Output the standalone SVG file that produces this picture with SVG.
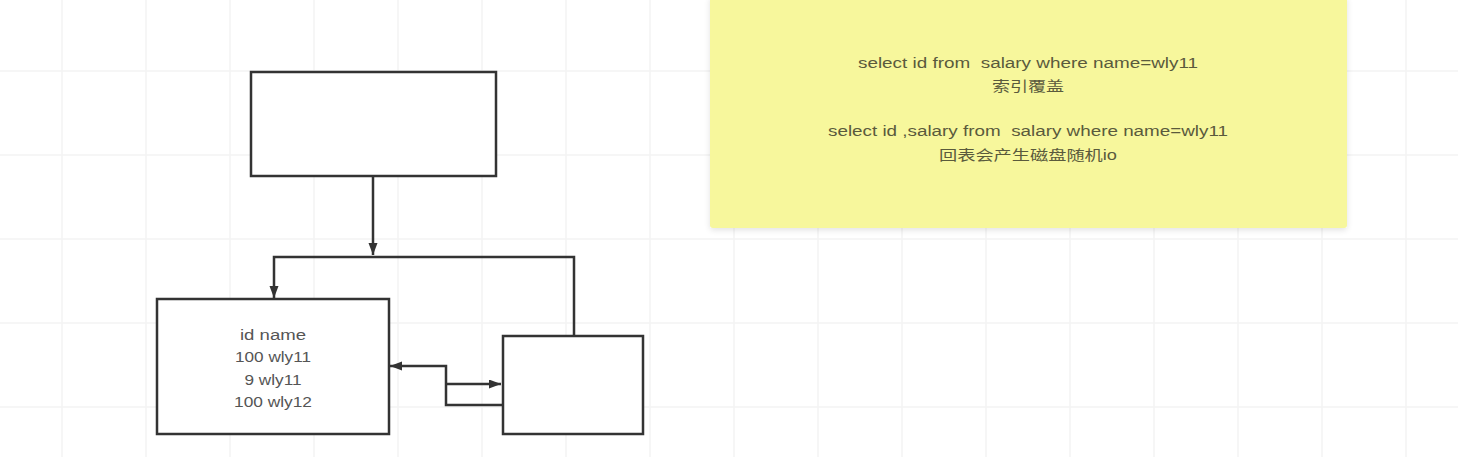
<svg xmlns="http://www.w3.org/2000/svg" width="1458" height="457" viewBox="0 0 1458 457">
<defs>
<marker id="arr" markerUnits="userSpaceOnUse" markerWidth="13" markerHeight="10" refX="12" refY="4.5" orient="auto">
<path d="M0,0 L12,4.5 L0,9 z" fill="#333"/>
</marker>
<filter id="sh" x="-5%" y="-5%" width="110%" height="115%">
<feGaussianBlur in="SourceAlpha" stdDeviation="3"/>
<feOffset dy="2"/>
<feComponentTransfer><feFuncA type="linear" slope="0.12"/></feComponentTransfer>
<feMerge><feMergeNode/><feMergeNode in="SourceGraphic"/></feMerge>
</filter>
</defs>
<style>
.grid line{stroke:#f3f3f3;stroke-width:1.5}
.box{fill:#fff;stroke:#333;stroke-width:2.5}
.conn{fill:none;stroke:#333;stroke-width:2.5}
.t{font-family:"Liberation Sans","Noto Sans CJK SC",sans-serif;font-size:14px;fill:#555;text-anchor:middle}
.n{font-family:"Liberation Sans","Noto Sans CJK SC",sans-serif;font-size:14px;fill:#5a5a3c;text-anchor:middle;white-space:pre}
</style>
<rect width="1458" height="457" fill="#fff"/>
<g class="grid">
<line x1="62" y1="0" x2="62" y2="457"/><line x1="146" y1="0" x2="146" y2="457"/><line x1="230" y1="0" x2="230" y2="457"/><line x1="314" y1="0" x2="314" y2="457"/><line x1="398" y1="0" x2="398" y2="457"/><line x1="482" y1="0" x2="482" y2="457"/><line x1="566" y1="0" x2="566" y2="457"/><line x1="650" y1="0" x2="650" y2="457"/><line x1="734" y1="0" x2="734" y2="457"/><line x1="818" y1="0" x2="818" y2="457"/><line x1="902" y1="0" x2="902" y2="457"/><line x1="986" y1="0" x2="986" y2="457"/><line x1="1070" y1="0" x2="1070" y2="457"/><line x1="1154" y1="0" x2="1154" y2="457"/><line x1="1238" y1="0" x2="1238" y2="457"/><line x1="1322" y1="0" x2="1322" y2="457"/><line x1="1406" y1="0" x2="1406" y2="457"/>
<line x1="0" y1="71" x2="1458" y2="71"/><line x1="0" y1="155" x2="1458" y2="155"/><line x1="0" y1="239" x2="1458" y2="239"/><line x1="0" y1="323" x2="1458" y2="323"/><line x1="0" y1="407" x2="1458" y2="407"/>
</g>
<g id="note">
<rect x="710" y="-4" width="637" height="232" rx="3" fill="#f7f79c" filter="url(#sh)"/>
<text class="n" x="1028" y="68" textLength="340" lengthAdjust="spacingAndGlyphs" xml:space="preserve">select id from  salary where name=wly11</text>
<text class="n" x="1028" y="91" textLength="72" lengthAdjust="spacingAndGlyphs">索引覆盖</text>
<text class="n" x="1028" y="136" textLength="400" lengthAdjust="spacingAndGlyphs" xml:space="preserve">select id ,salary from  salary where name=wly11</text>
<text class="n" x="1028" y="160" textLength="178" lengthAdjust="spacingAndGlyphs">回表会产生磁盘随机io</text>
</g>
<g id="top-box">
<rect class="box" x="251" y="72" width="245" height="104"/>
</g>
<g id="left-box">
<rect class="box" x="157" y="299" width="232" height="135"/>
<text class="t" x="273" y="340" textLength="66" lengthAdjust="spacingAndGlyphs">id name</text>
<text class="t" x="273" y="362" textLength="76" lengthAdjust="spacingAndGlyphs">100 wly11</text>
<text class="t" x="273" y="385" textLength="57" lengthAdjust="spacingAndGlyphs">9 wly11</text>
<text class="t" x="273" y="407" textLength="78" lengthAdjust="spacingAndGlyphs">100 wly12</text>
</g>
<g id="right-box">
<rect class="box" x="503" y="336" width="140" height="98"/>
</g>
<g id="connectors">
<path class="conn" d="M373,176 V255" marker-end="url(#arr)"/>
<path class="conn" d="M574,336 V257 H274 V298" marker-end="url(#arr)"/>
<path class="conn" d="M503,405 H446 V366 H390" marker-end="url(#arr)"/>
<path class="conn" d="M446,384 H501" marker-end="url(#arr)"/>
</g>
</svg>
